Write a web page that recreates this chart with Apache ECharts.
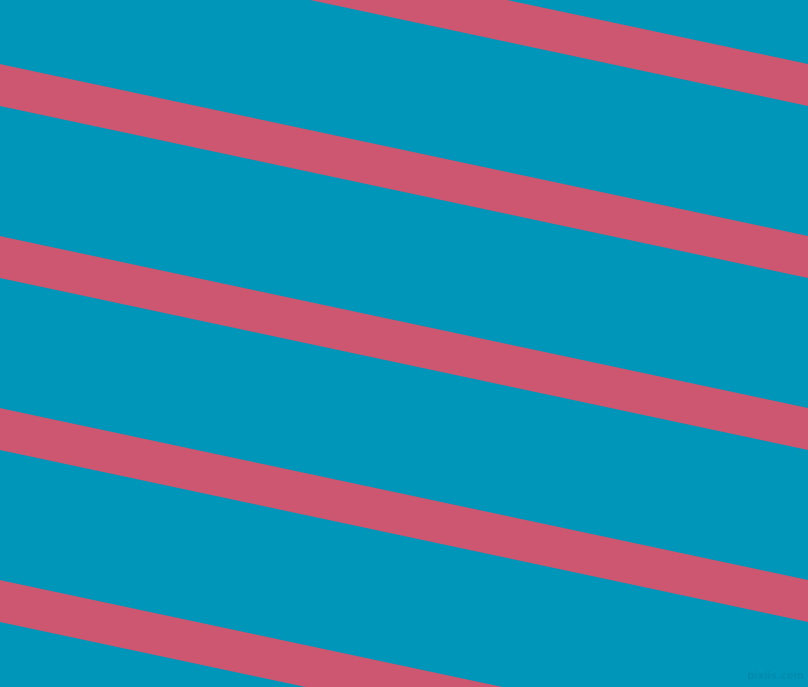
<!DOCTYPE html>
<html>
<head>
<meta charset="utf-8">
<script src="https://cdn.jsdelivr.net/npm/echarts@6/dist/echarts.min.js"></script>
<style>html,body{margin:0;padding:0;background:#0096BA;}#c{width:808px;height:687px;}</style>
</head>
<body>
<div id="c"></div>
<script>
// Stripe centre lines (pixel units, y downward)
var xEnds = [0, 808];
var stripeLeftY = [-87, 85, 257, 429, 601];
var stripeRightY = [85, 257, 429, 601, 773];
var stripeNames = ['s1', 's2', 's3', 's4', 's5'];

var chart = echarts.init(document.getElementById('c'), null, {renderer: 'canvas'});
var series = stripeNames.map(function (n, i) {
  return {
    name: n,
    type: 'line',
    data: [[xEnds[0], stripeLeftY[i]], [xEnds[1], stripeRightY[i]]],
    symbol: 'none',
    silent: true,
    clip: true,
    lineStyle: {color: '#CD5670', width: 41, cap: 'square'}
  };
});
chart.setOption({
  backgroundColor: '#0096BA',
  animation: false,
  grid: {left: 0, right: 0, top: 0, bottom: 0},
  xAxis: {type: 'value', min: 0, max: 808, show: false},
  yAxis: {type: 'value', min: 0, max: 687, inverse: true, show: false},
  graphic: [{
    type: 'text', right: 4, bottom: 6,
    style: {text: 'pixlis.com', fill: 'rgba(0,0,0,0.07)', font: 'bold 10px "DejaVu Sans"'}
  }],
  series: series
});
</script>
</body>
</html>
